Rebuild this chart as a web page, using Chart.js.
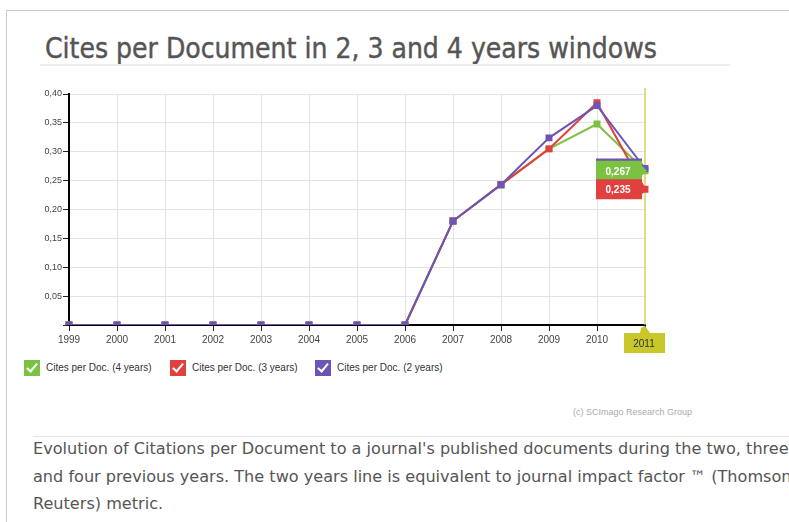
<!DOCTYPE html>
<html>
<head>
<meta charset="utf-8">
<script src="https://cdn.jsdelivr.net/npm/chart.js@4/dist/chart.umd.min.js"></script>
<style>
    body { margin: 0; background: #fff; width: 789px; height: 522px; overflow: hidden; position: relative; font-family: Arial, "Liberation Sans", sans-serif; }
    .panel { position: absolute; left: 6px; top: 10px; width: 800px; height: 520px; border-left: 1px solid #ccc; border-top: 1px solid #ccc; }
    .titulo { position: absolute; left: 45px; top: 32px; font-family: "DejaVu Sans Condensed", "DejaVu Sans", sans-serif; font-size: 28px; color: #555; white-space: nowrap; -webkit-text-stroke: 0.4px #555; }
    .linea-titulo { position: absolute; left: 40px; top: 64px; width: 690px; height: 2px; background: #eee; }
    #grafico-wrap { position: absolute; left: 0; top: 80px; width: 700px; height: 280px; }
    .leyenda { position: absolute; top: 360px; left: 0; font-size: 10px; color: #333; }
    .item { position: absolute; white-space: nowrap; line-height: 16px; }
    .check { position: absolute; left: 0; top: 0; width: 16px; height: 16px; }
    .check::after { content: ''; position: absolute; left: 5px; top: 1px; width: 4px; height: 9px; border-right: 2px solid #fff; border-bottom: 2px solid #fff; transform: rotate(40deg); }
    .item span { position: absolute; left: 22px; top: 0; }
    .credito { position: absolute; left: 573px; top: 407px; font-size: 9px; color: #aaa; }
    .linea-pie { position: absolute; left: 33px; top: 436px; width: 760px; height: 1px; background: #e6e6e6; }
    .descripcion { position: absolute; left: 33px; top: 435px; width: 820px; font-family: "DejaVu Sans", sans-serif; font-size: 16.1px; line-height: 27.5px; color: #555; white-space: nowrap; }
</style>
</head>
<body>
<div class="panel"></div>
<div class="titulo">Cites per Document in 2, 3 and 4 years windows</div>
<div class="linea-titulo"></div>
<div id="grafico-wrap"><canvas id="grafico-citas"></canvas></div>
<div class="leyenda" id="leyenda"></div>
<div class="credito">(c) SCImago Research Group</div>
<div class="linea-pie"></div>
<div class="descripcion">Evolution of Citations per Document to a journal's published documents during the two, three<br>and four previous years. The two years line is equivalent to journal impact factor &#8482; (Thomson<br>Reuters) metric.</div>
<script>
const anios = ['1999', '2000', '2001', '2002', '2003', '2004', '2005', '2006', '2007', '2008', '2009', '2010', '2011'];
const citas4 = [0, 0, 0, 0, 0, 0, 0, 0, 0.18, 0.243, 0.305, 0.348, 0.267];
const citas3 = [0, 0, 0, 0, 0, 0, 0, 0, 0.18, 0.243, 0.305, 0.385, 0.235];
const citas2 = [0, 0, 0, 0, 0, 0, 0, 0, 0.18, 0.243, 0.324, 0.380, 0.271];
const ticksY = [0.05, 0.10, 0.15, 0.20, 0.25, 0.30, 0.35, 0.40];

const series = [
    { nombre: 'Cites per Doc. (4 years)', datos: citas4, color: '#7cc242', orden: 2, x: 24 },
    { nombre: 'Cites per Doc. (3 years)', datos: citas3, color: '#e0403e', orden: 1, x: 170 },
    { nombre: 'Cites per Doc. (2 years)', datos: citas2, color: '#6d55b6', orden: 0, x: 315 }
];

const amarillo = '#c8c82a';

function formato(v) {
    return v.toFixed(3).replace('.', ',');
}

// leyenda en html
const leyenda = document.getElementById('leyenda');
series.forEach(s => {
    const item = document.createElement('div');
    item.className = 'item';
    item.style.left = s.x + 'px';
    item.innerHTML = `<div class="check" style="background:${s.color}"></div><span>${s.nombre}</span>`;
    leyenda.appendChild(item);
});

const resaltado = {
    id: 'resaltado',
    beforeDatasetsDraw(chart) {
        const ctx = chart.ctx;
        const x = chart.scales.x.getPixelForValue(anios.length - 1);
        ctx.save();
        ctx.strokeStyle = '#cccc30';
        ctx.lineWidth = 1.2;
        ctx.beginPath();
        ctx.moveTo(x, chart.chartArea.top - 6);
        ctx.lineTo(x, chart.chartArea.bottom);
        ctx.stroke();
        ctx.restore();
    },
    afterDraw(chart) {
        const ctx = chart.ctx;
        const ultimo = anios.length - 1;
        const x = chart.scales.x.getPixelForValue(ultimo);
        ctx.save();
        // etiquetas de valor (la de 2 anos queda detras)
        [series[2], series[0], series[1]].forEach(s => {
            const y = chart.scales.y.getPixelForValue(s.datos[ultimo]);
            const izq = x - 49, der = x - 3, alto = 20;
            ctx.fillStyle = s.color;
            ctx.beginPath();
            ctx.moveTo(izq, y - alto / 2);
            ctx.lineTo(der, y - alto / 2);
            ctx.lineTo(der, y - 5);
            ctx.lineTo(x + 2, y);
            ctx.lineTo(der, y + 5);
            ctx.lineTo(der, y + alto / 2);
            ctx.lineTo(izq, y + alto / 2);
            ctx.closePath();
            ctx.fill();
            ctx.fillStyle = '#fff';
            ctx.font = 'bold 10px Arial';
            ctx.textAlign = 'center';
            ctx.textBaseline = 'middle';
            ctx.fillText(formato(s.datos[ultimo]), izq + 22, y + 1);
        });
        // etiqueta del eje x resaltada
        const base = chart.scales.x.bottom - chart.scales.x.height + 2;
        ctx.fillStyle = amarillo;
        ctx.beginPath();
        ctx.moveTo(x - 21, base + 6);
        ctx.lineTo(x - 5, base + 6);
        ctx.lineTo(x - 4, base + 1);
        ctx.lineTo(x + 0, base - 1);
        ctx.lineTo(x + 5, base + 6);
        ctx.lineTo(x + 20, base + 6);
        ctx.lineTo(x + 20, base + 26);
        ctx.lineTo(x - 21, base + 26);
        ctx.closePath();
        ctx.fill();
        ctx.fillStyle = '#333';
        ctx.font = '10px Arial';
        ctx.textAlign = 'center';
        ctx.textBaseline = 'middle';
        ctx.fillText(anios[ultimo], x - 1, base + 17);
        ctx.restore();
    }
};

const ctx = document.getElementById('grafico-citas').getContext('2d');
new Chart(ctx, {
    type: 'line',
    data: {
        labels: anios,
        datasets: series.map(s => ({
            label: s.nombre,
            data: s.datos,
            borderColor: s.color,
            backgroundColor: s.color,
            borderWidth: 2,
            pointStyle: 'rect',
            pointRadius: 3.5,
            tension: 0,
            order: s.orden
        }))
    },
    options: {
        responsive: true,
        maintainAspectRatio: false,
        animation: false,
        layout: { padding: { left: 0, top: 14, right: 55, bottom: 0 } },
        plugins: {
            legend: { display: false },
            tooltip: { enabled: false }
        },
        scales: {
            x: {
                offset: false,
                grid: {
                    color: ctx => ctx.index === anios.length - 1 ? 'rgba(0,0,0,0)' : '#e3e3e3',
                    tickColor: '#222',
                    tickLength: 6
                },
                border: { color: '#000', width: 2 },
                ticks: {
                    color: '#444',
                    font: { family: 'Arial', size: 10 },
                    padding: 3,
                    maxRotation: 0,
                    callback: (v, i) => i === anios.length - 1 ? '' : anios[i]
                },
                afterFit: scale => { scale.height = 35; }
            },
            y: {
                min: 0,
                max: 0.40,
                afterBuildTicks: scale => { scale.ticks = [0].concat(ticksY).map(v => ({ value: v })); },
                grid: { color: '#e3e3e3', tickColor: '#222', tickLength: 6 },
                border: { color: '#000', width: 2 },
                ticks: {
                    color: '#444',
                    font: { family: 'Arial', size: 9 },
                    padding: 1,
                    callback: v => v === 0 ? '' : v.toFixed(2).replace('.', ',')
                },
                afterFit: scale => { scale.width = 69; }
            }
        }
    },
    plugins: [resaltado]
});
</script>
</body>
</html>
